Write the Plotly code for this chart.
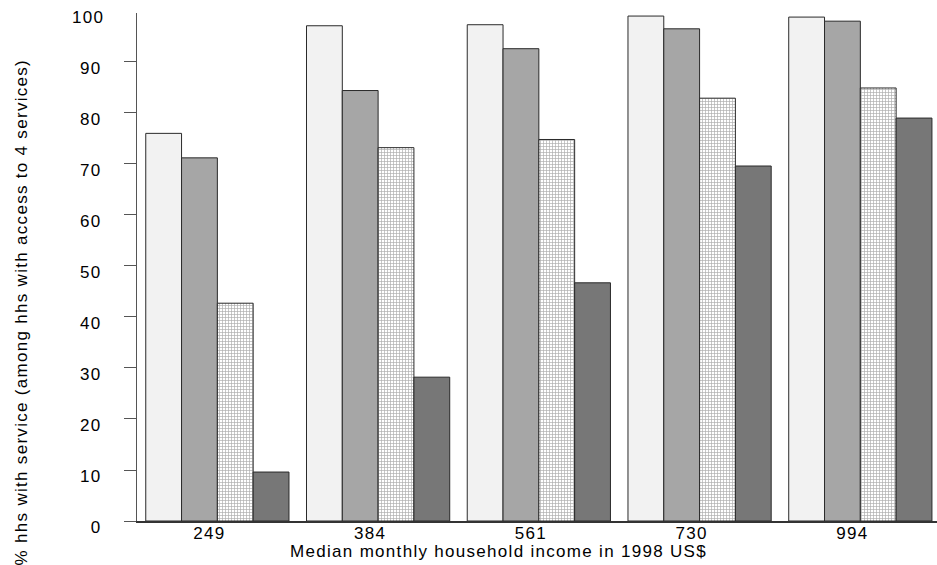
import plotly.graph_objects as go

categories = ["249", "384", "561", "730", "994"]
series1 = [76.0, 97.1, 97.3, 99.0, 98.8]
series2 = [71.2, 84.4, 92.6, 96.5, 98.0]
series3 = [42.7, 73.2, 74.8, 82.9, 84.9]
series4 = [9.6, 28.2, 46.7, 69.6, 79.0]
y_ticks = [0, 10, 20, 30, 40, 50, 60, 70, 80, 90]

FONT = "Liberation Sans, Arial, sans-serif"
W, H = 937, 565
L, R, T, B = 137, 0, 13, 44
Y_MAX = 99.6

fig = go.Figure()
styles = [
    dict(color="#f2f2f2"),
    dict(color="#a6a6a6"),
    dict(color="white", pattern=dict(shape="+", size=3, solidity=0.4, fgcolor="#5a5a5a", bgcolor="white")),
    dict(color="#777777"),
]
for vals, st in zip([series1, series2, series3, series4], styles):
    fig.add_trace(go.Bar(
        x=categories, y=vals,
        marker=dict(line=dict(color="#2a2a2a", width=1), **st),
        showlegend=False, hoverinfo="skip",
    ))

pw = W - L - R
ph = H - T - B
fig.update_layout(
    width=W, height=H,
    margin=dict(l=L, r=R, t=T, b=B, autoexpand=False),
    barmode="group", bargap=0.109, bargroupgap=0,
    plot_bgcolor="white", paper_bgcolor="white",
    font=dict(family=FONT, size=17, color="black"),
    xaxis=dict(
        type="category", range=[-0.5, 4.477],
        showline=True, linecolor="#333333", linewidth=1.5,
        ticks="", showgrid=False, zeroline=False,
        tickfont=dict(family=FONT, size=17, color="black"),
        ticklabelshift=-8, ticklabelstandoff=-4,
    ),
    yaxis=dict(
        range=[0, Y_MAX], tickvals=y_ticks,
        showline=True, linecolor="#555555", linewidth=1,
        ticks="outside", ticklen=12, tickcolor="#555555", tickwidth=1,
        showgrid=False, zeroline=False,
        tickfont=dict(family=FONT, size=17, color="black"),
        ticklabelstandoff=19, ticklabelshift=6,
    ),
    annotations=[
        dict(text="Median monthly household income in 1998 US$", xref="paper", yref="paper",
             x=(498.7 - L) / pw, y=-(551 - (H - B)) / ph,
             xanchor="center", yanchor="middle", showarrow=False,
             font=dict(family=FONT, size=17, color="black")),
        dict(text="% hhs with service (among hhs with access to 4 services)", xref="paper", yref="paper",
             x=-(L - 21) / pw, y=((H - B) - 312) / ph,
             xanchor="center", yanchor="middle", textangle=-90, showarrow=False,
             font=dict(family=FONT, size=17, color="black")),
        dict(text="100", xref="paper", yref="paper", x=-(L - 104) / pw, y=100 / Y_MAX,
             xanchor="right", yanchor="middle", yshift=-7, showarrow=False,
             font=dict(family=FONT, size=17, color="black")),
    ],
)

post = """
var s = document.createElement('style');
s.innerHTML = 'html, body {margin:0; padding:0;} .xtick text, .ytick text, .annotation-text {letter-spacing: 1.3px;}';
document.head.appendChild(s);
"""
fig.write_html("out.html", post_script=post, config={"displayModeBar": False, "staticPlot": True})
